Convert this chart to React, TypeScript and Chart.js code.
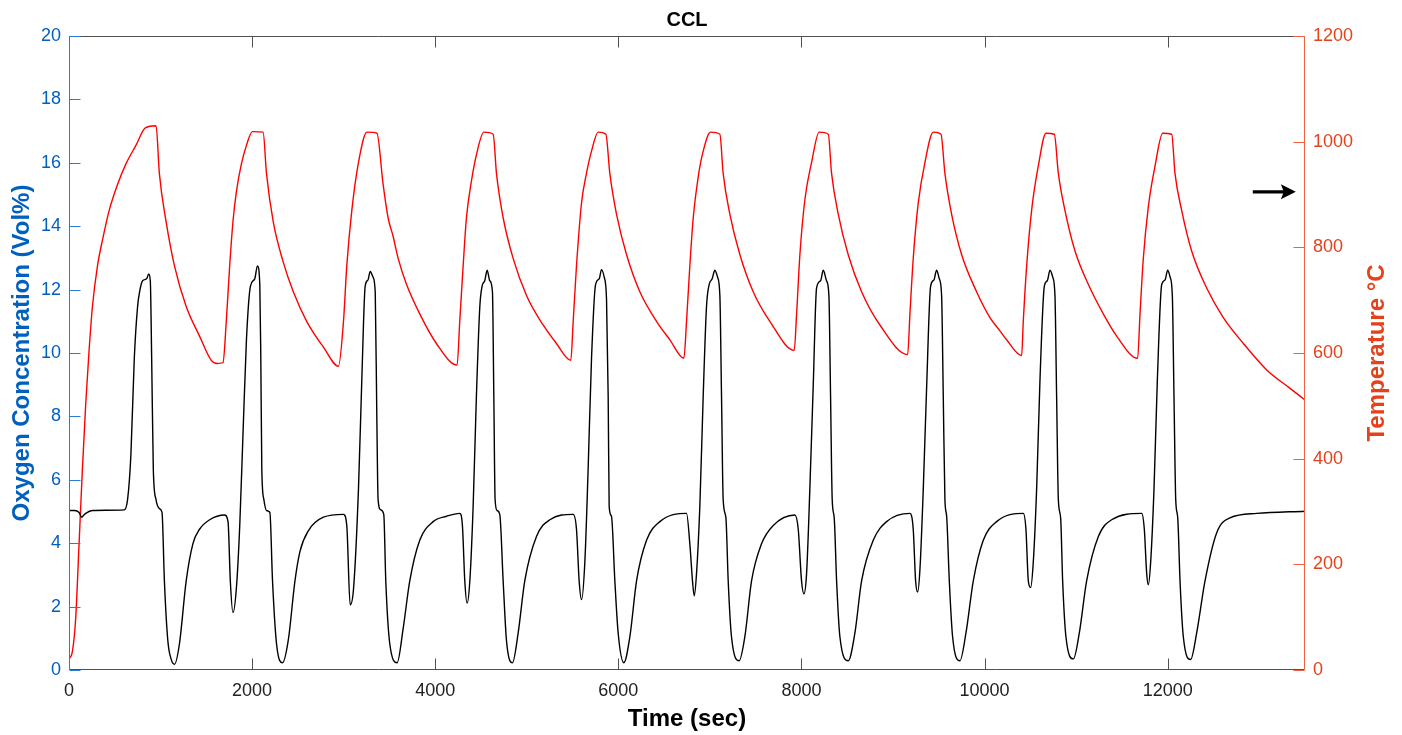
import React, { useEffect, useRef } from 'react';
import { Chart, registerables } from 'chart.js';

Chart.register(...registerables);

// ---------- data ----------
const chartTitle = 'CCL';
const xTitle = 'Time (sec)';
const leftTitle = 'Oxygen Concentration (Vol%)';
const rightTitle = 'Temperature °C';

const xTickValues = [0, 2000, 4000, 6000, 8000, 10000, 12000];
const leftTickValues = [0, 2, 4, 6, 8, 10, 12, 14, 16, 18, 20];
const rightTickValues = [0, 200, 400, 600, 800, 1000, 1200];

const o2Time = [
  0, 60, 110, 139, 160, 183, 256, 400, 603, 640, 676, 713, 749, 775, 804, 848, 870, 888, 903, 921, 950, 987, 1016,
  1042, 1079, 1115, 1152, 1206, 1280, 1353, 1426, 1536, 1700, 1737, 1762, 1791, 1828, 1865, 1901, 1938, 1982,
  2029, 2058, 2084, 2095, 2106, 2128, 2157, 2194, 2223, 2267, 2333, 2395, 2468, 2523, 2614, 2779, 2998, 3034,
  3071, 3108, 3162, 3199, 3235, 3265, 3290, 3320, 3345, 3362, 3376, 3405, 3438, 3460, 3504, 3584, 3649, 3722,
  3831, 3977, 4123, 4268, 4297, 4323, 4348, 4378, 4414, 4450, 4487, 4512, 4541, 4567, 4596, 4625, 4640, 4654,
  4676, 4705, 4742, 4778, 4844, 4906, 4978, 5106, 5252, 5507, 5543, 5572, 5598, 5634, 5670, 5707, 5751, 5791,
  5816, 5845, 5871, 5889, 5900, 5925, 5962, 5998, 6060, 6126, 6199, 6308, 6454, 6745, 6781, 6810, 6829, 6854,
  6890, 6927, 6963, 6992, 7025, 7054, 7083, 7109, 7127, 7145, 7175, 7200, 7236, 7320, 7382, 7455, 7564, 7692,
  7928, 7965, 8001, 8027, 8056, 8092, 8129, 8165, 8209, 8238, 8274, 8300, 8318, 8336, 8358, 8384, 8420, 8511,
  8584, 8657, 8784, 8930, 9185, 9221, 9247, 9269, 9294, 9331, 9367, 9411, 9447, 9476, 9506, 9531, 9549, 9567,
  9586, 9615, 9651, 9731, 9797, 9877, 9986, 10132, 10423, 10452, 10478, 10503, 10532, 10569, 10605, 10653,
  10685, 10715, 10744, 10769, 10787, 10806, 10831, 10853, 10889, 10970, 11035, 11115, 11243, 11388, 11716,
  11745, 11771, 11789, 11814, 11851, 11887, 11935, 11971, 12000, 12026, 12051, 12069, 12088, 12110, 12135,
  12171, 12251, 12317, 12408, 12536, 12681, 12973, 13500,
];
const o2Values = [
  5.03, 5.03, 4.97, 4.82, 4.88, 4.94, 5.03, 5.04, 5.05, 5.38, 6.78, 9.82, 11.46, 11.99, 12.28, 12.34, 12.49, 12.28,
  9.82, 6.32, 5.38, 5.09, 4.97, 2.81, 0.94, 0.35, 0.18, 0.82, 2.81, 3.98, 4.44, 4.74, 4.89, 4.68, 2.81, 1.81, 2.57,
  4.56, 7.49, 10.41, 12.11, 12.34, 12.75, 12.16, 9.82, 6.32, 5.38, 5.03, 4.97, 2.81, 0.82, 0.23, 0.94, 2.81, 3.74,
  4.39, 4.82, 4.91, 4.56, 2.05, 2.57, 5.73, 9.24, 12.11, 12.3, 12.57, 12.4, 11.9, 8.0, 5.38, 5.05, 4.91, 2.81, 0.82,
  0.23, 1.29, 2.81, 4.09, 4.68, 4.85, 4.94, 4.56, 2.81, 2.11, 2.81, 5.15, 8.65, 11.46, 12.11, 12.28, 12.61, 12.28,
  11.93, 8.65, 5.38, 5.03, 4.91, 2.81, 0.94, 0.23, 1.17, 2.81, 4.21, 4.74, 4.91, 4.44, 2.81, 2.22, 3.39, 6.32, 9.82,
  12.16, 12.34, 12.63, 12.4, 11.7, 8.65, 5.15, 4.85, 2.81, 1.17, 0.23, 1.05, 2.81, 4.09, 4.68, 4.94, 3.98, 2.81,
  2.34, 3.04, 5.15, 8.65, 11.46, 12.16, 12.34, 12.61, 12.4, 11.81, 8.65, 5.38, 4.8, 2.81, 1.05, 0.29, 1.05, 2.81,
  3.98, 4.56, 4.89, 4.44, 2.81, 2.4, 3.04, 5.73, 9.0, 12.05, 12.28, 12.61, 12.28, 11.81, 8.65, 5.38, 4.8, 2.81,
  1.05, 0.29, 1.17, 2.81, 4.09, 4.68, 4.94, 4.44, 2.81, 2.46, 3.16, 5.73, 8.89, 12.11, 12.3, 12.61, 12.34, 11.81,
  8.65, 5.38, 4.85, 2.81, 1.05, 0.29, 1.17, 2.81, 4.09, 4.68, 4.94, 4.44, 2.81, 2.6, 3.39, 5.73, 9.12, 12.11,
  12.28, 12.61, 12.4, 11.81, 8.65, 5.38, 4.8, 2.81, 1.05, 0.35, 1.17, 2.81, 4.21, 4.74, 4.94, 4.44, 3.04, 2.69,
  3.39, 5.73, 9.12, 12.16, 12.3, 12.61, 12.4, 11.81, 8.65, 5.38, 4.8, 2.81, 1.05, 0.33, 1.17, 2.81, 4.33, 4.8,
  4.94, 5.01,
];

const tempTime = [
  0, 37, 73, 110, 146, 183, 219, 256, 311, 366, 439, 530, 622, 731, 834, 951, 987, 1060, 1152, 1280, 1426, 1554,
  1620, 1682, 1718, 1755, 1791, 1828, 1883, 1938, 2003, 2120, 2157, 2230, 2340, 2450, 2596, 2779, 2943, 2998,
  3034, 3089, 3162, 3254, 3363, 3431, 3485, 3540, 3595, 3686, 3831, 4013, 4239, 4268, 4305, 4341, 4396, 4450,
  4531, 4633, 4669, 4742, 4851, 4997, 5179, 5324, 5481, 5507, 5543, 5598, 5652, 5707, 5780, 5864, 5907, 5980,
  6090, 6235, 6417, 6563, 6716, 6745, 6781, 6818, 6872, 6927, 7007, 7109, 7145, 7218, 7328, 7473, 7655, 7921,
  7947, 7983, 8038, 8111, 8194, 8293, 8329, 8402, 8511, 8657, 8857, 9160, 9185, 9221, 9276, 9349, 9440, 9524,
  9567, 9640, 9750, 9913, 10059, 10168, 10241, 10405, 10423, 10460, 10514, 10587, 10671, 10762, 10806, 10878,
  10988, 11133, 11297, 11443, 11672, 11698, 11734, 11789, 11862, 11946, 12044, 12080, 12153, 12262, 12426,
  12608, 12827, 13082, 13337, 13500,
];
const tempValues = [
  21, 35, 98, 239, 379, 505, 604, 688, 765, 814, 870, 919, 958, 993, 1026, 1030, 940, 849, 765, 688, 632, 586,
  580, 582, 660, 765, 849, 905, 958, 993, 1019, 1018, 940, 849, 772, 716, 660, 611, 575, 660, 765, 870, 961,
  1018, 1016, 919, 856, 821, 779, 730, 674, 618, 577, 660, 765, 856, 926, 975, 1018, 1014, 940, 856, 779, 709,
  653, 618, 586, 660, 765, 884, 940, 982, 1018, 1014, 940, 863, 786, 716, 660, 625, 590, 660, 765, 856, 933,
  982, 1018, 1014, 940, 863, 786, 716, 660, 605, 674, 786, 891, 961, 1018, 1014, 940, 863, 786, 716, 653, 597,
  674, 779, 884, 961, 1018, 1014, 940, 863, 786, 716, 667, 642, 625, 595, 660, 765, 870, 954, 1016, 1014, 940,
  870, 793, 730, 674, 632, 590, 674, 779, 877, 954, 1016, 1014, 940, 870, 793, 723, 667, 618, 568, 533, 511,
];

// annotation arrow (data coordinates: time, temperature)
const arrowFromTime = 12930;
const arrowToTime = 13400;
const arrowTemp = 905;

// ---------- styling ----------
const FONT = "'Liberation Sans', Arial, Helvetica, sans-serif";
const BLUE_TEXT = '#0060C0';
const BLUE_LINE = '#2B7AD3';
const RED_TEXT = '#E5421B';
const RED_LINE = '#F0603E';
const GRAY_LINE = '#505050';
const TICK_LEN = 11;

const frameAndMarks = {
  id: 'frameAndMarks',
  afterDraw(chart: any) {
    const { ctx, chartArea } = chart;
    const { left, right, top, bottom } = chartArea;
    const xs = chart.scales.x;
    const yl = chart.scales.y;
    const yr = chart.scales.y1;
    const L = Math.round(left) + 0.5;
    const R = Math.round(right) - 0.5;
    const T = Math.round(top) + 0.5;
    const B = Math.round(bottom) - 0.5;
    ctx.save();
    ctx.lineWidth = 1;
    // top and bottom lines with x ticks
    ctx.strokeStyle = GRAY_LINE;
    ctx.beginPath();
    ctx.moveTo(L, T);
    ctx.lineTo(R, T);
    ctx.moveTo(L, B);
    ctx.lineTo(R, B);
    xs.ticks.forEach((t: any) => {
      const px = Math.round(xs.getPixelForValue(t.value)) + 0.5;
      ctx.moveTo(px, T);
      ctx.lineTo(px, T + TICK_LEN);
      ctx.moveTo(px, B);
      ctx.lineTo(px, B - TICK_LEN);
    });
    ctx.stroke();
    // left axis
    ctx.strokeStyle = BLUE_LINE;
    ctx.beginPath();
    ctx.moveTo(L, T);
    ctx.lineTo(L, B);
    yl.ticks.forEach((t: any) => {
      const py = Math.round(yl.getPixelForValue(t.value)) + 0.5;
      ctx.moveTo(L, py);
      ctx.lineTo(L + TICK_LEN, py);
    });
    ctx.stroke();
    // right axis
    ctx.strokeStyle = RED_LINE;
    ctx.beginPath();
    ctx.moveTo(R, T);
    ctx.lineTo(R, B);
    yr.ticks.forEach((t: any) => {
      const py = Math.round(yr.getPixelForValue(t.value)) + 0.5;
      ctx.moveTo(R, py);
      ctx.lineTo(R - TICK_LEN, py);
    });
    ctx.stroke();

    // arrow annotation
    const ax0 = xs.getPixelForValue(arrowFromTime);
    const ax1 = xs.getPixelForValue(arrowToTime);
    const ay = yr.getPixelForValue(arrowTemp);
    ctx.strokeStyle = '#000';
    ctx.fillStyle = '#000';
    ctx.lineWidth = 3.2;
    ctx.beginPath();
    ctx.moveTo(ax0, ay);
    ctx.lineTo(ax1 - 10, ay);
    ctx.stroke();
    ctx.beginPath();
    ctx.moveTo(ax1, ay);
    ctx.lineTo(ax1 - 15, ay - 7.5);
    ctx.lineTo(ax1 - 12, ay);
    ctx.lineTo(ax1 - 15, ay + 7.5);
    ctx.closePath();
    ctx.fill();

    // right axis title (reads bottom-to-top)
    ctx.fillStyle = RED_TEXT;
    ctx.font = `bold 24px ${FONT}`;
    ctx.textAlign = 'center';
    ctx.textBaseline = 'middle';
    ctx.translate(1377, (top + bottom) / 2);
    ctx.rotate(-Math.PI / 2);
    ctx.fillText(rightTitle, 0, 0);
    ctx.restore();
  },
};

export default function App() {
  const canvasRef = useRef<HTMLCanvasElement | null>(null);

  useEffect(() => {
    if (!canvasRef.current) return;
    const chart = new Chart(canvasRef.current, {
      type: 'line',
      data: {
        datasets: [
          {
            label: 'Oxygen',
            data: o2Time.map((t, i) => ({ x: t, y: o2Values[i] })),
            borderColor: '#000000',
            borderWidth: 1.4,
            pointRadius: 0,
            cubicInterpolationMode: 'monotone',
            yAxisID: 'y',
          },
          {
            label: 'Temperature',
            data: tempTime.map((t, i) => ({ x: t, y: tempValues[i] })),
            borderColor: '#FF0000',
            borderWidth: 1.4,
            pointRadius: 0,
            cubicInterpolationMode: 'monotone',
            yAxisID: 'y1',
          },
        ],
      },
      options: {
        animation: false,
        responsive: true,
        maintainAspectRatio: false,
        layout: { padding: 0 },
        plugins: {
          legend: { display: false },
          tooltip: { enabled: false },
          title: {
            display: true,
            fullSize: false,
            text: chartTitle,
            color: '#000',
            font: { family: FONT, size: 20, weight: 'bold' },
            padding: { top: 8, bottom: 4 },
          },
        },
        scales: {
          x: {
            type: 'linear',
            min: 0,
            max: 13500,
            afterBuildTicks: (scale: any) => {
              scale.ticks = xTickValues.map((v) => ({ value: v }));
            },
            afterFit: (scale: any) => {
              scale.height = 65;
            },
            grid: { display: false, drawTicks: false },
            border: { display: false },
            ticks: {
              color: '#222',
              font: { family: FONT, size: 18 },
              padding: 10,
              maxRotation: 0,
              callback: (v: any) => String(v),
            },
            title: {
              display: true,
              text: xTitle,
              color: '#000',
              font: { family: FONT, size: 24, weight: 'bold' },
              padding: { top: 0, bottom: 1 },
            },
          },
          y: {
            type: 'linear',
            position: 'left',
            min: 0,
            max: 20,
            afterBuildTicks: (scale: any) => {
              scale.ticks = leftTickValues.map((v) => ({ value: v }));
            },
            afterFit: (scale: any) => {
              scale.width = 69;
            },
            grid: { display: false, drawTicks: false },
            border: { display: false },
            ticks: {
              color: BLUE_TEXT,
              font: { family: FONT, size: 18 },
              padding: 8,
              callback: (v: any) => String(v),
            },
            title: {
              display: true,
              text: leftTitle,
              color: BLUE_TEXT,
              font: { family: FONT, size: 24, weight: 'bold' },
              padding: { top: 8, bottom: 0 },
            },
          },
          y1: {
            type: 'linear',
            position: 'right',
            min: 0,
            max: 1200,
            afterBuildTicks: (scale: any) => {
              scale.ticks = rightTickValues.map((v) => ({ value: v }));
            },
            afterFit: (scale: any) => {
              scale.width = 97;
            },
            grid: { display: false, drawTicks: false },
            border: { display: false },
            ticks: {
              color: RED_TEXT,
              font: { family: FONT, size: 18 },
              padding: 8,
              callback: (v: any) => String(v),
            },
            title: { display: false },
          },
        },
      } as any,
      plugins: [frameAndMarks],
    });
    return () => chart.destroy();
  }, []);

  return (
    <div style={{ position: 'fixed', left: 0, top: 0, width: 1402, height: 735, background: '#fff' }}>
      <canvas ref={canvasRef} />
    </div>
  );
}
